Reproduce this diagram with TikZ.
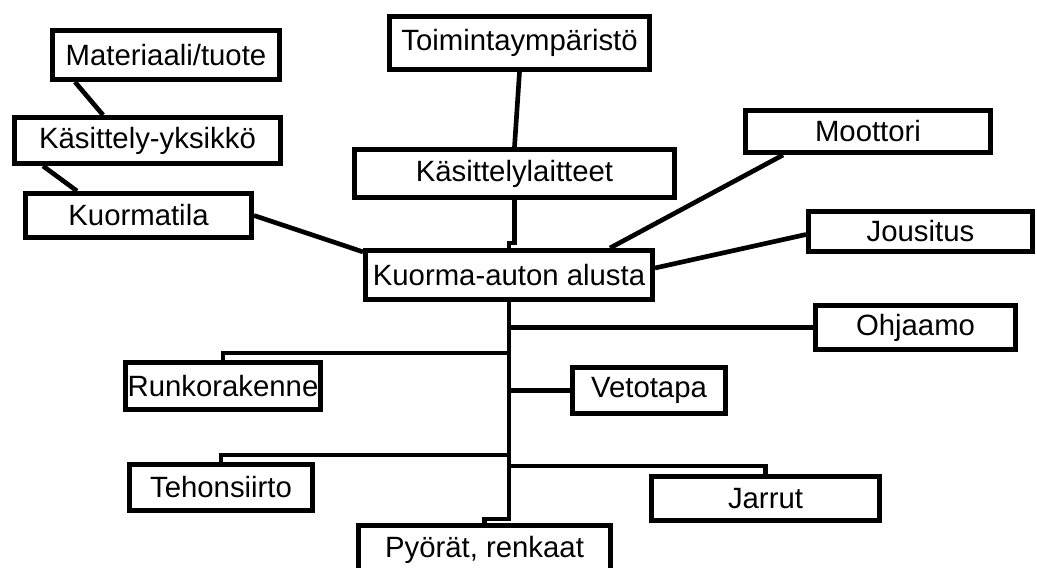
\documentclass[tikz,border=0pt]{standalone}
\usepackage{fontspec}
\setmainfont{Liberation Sans}
\usetikzlibrary{calc}

\tikzset{every picture/.style={line width=3.5pt}}
\tikzset{
	box/.style={draw, fill=white, line width=3.75pt, inner sep=0pt,
		font=\fontsize{22}{26}\selectfont},
	link/.style={line width=3.5pt}}

\begin{document}
\begin{tikzpicture}[x=0.75pt,y=0.75pt,yscale=-1,xscale=1]
	\useasboundingbox (0,0) rectangle (1037,567);

	%Shape: Rectangle [mat]
	\node [box, minimum width=170.25pt, minimum height=36.75pt] (mat) at (166,55) {Materiaali/tuote};
	%Shape: Rectangle [kys]
	\node [box, minimum width=199.5pt, minimum height=34.5pt] (kys) at (147.5,140.5) {Käsittely-yksikkö};
	%Shape: Rectangle [kuo]
	\node [box, minimum width=169.5pt, minimum height=33pt] (kuo) at (138.5,215.5) {Kuormatila};
	%Shape: Rectangle [toim]
	\node [box, minimum width=195pt, minimum height=39.75pt] (toim) at (519.5,43) {Toimintaympäristö};
	%Shape: Rectangle [kasl]
	\node [box, minimum width=240pt, minimum height=36pt] (kasl) at (514.5,173.5) {Käsittelylaitteet};
	%Shape: Rectangle [alusta]
	\node [box, minimum width=215.25pt, minimum height=36.75pt] (alusta) at (509,275) {Kuorma-auton alusta};
	%Shape: Rectangle [moot]
	\node [box, minimum width=183.75pt, minimum height=31.5pt] (moot) at (868,131.5) {Moottori};
	%Shape: Rectangle [jous]
	\node [box, minimum width=168pt, minimum height=30pt] (jous) at (920.5,231.5) {Jousitus};
	%Shape: Rectangle [ohj]
	\node [box, minimum width=150pt, minimum height=33pt] (ohj) at (915.5,327.5) {Ohjaamo};
	%Shape: Rectangle [runko]
	\node [box, minimum width=146.25pt, minimum height=35.25pt] (runko) at (223,386) {Runkorakenne};
	%Shape: Rectangle [veto]
	\node [box, minimum width=114.75pt, minimum height=34.5pt] (veto) at (649,390.5) {Vetotapa};
	%Shape: Rectangle [teho]
	\node [box, minimum width=137.25pt, minimum height=34.5pt] (teho) at (221,487.5) {Tehonsiirto};
	%Shape: Rectangle [jarr]
	\node [box, minimum width=171pt, minimum height=33pt] (jarr) at (765.5,498.5) {Jarrut};
	%Shape: Rectangle [pyo], cut by the page edge
	\node [box, minimum width=189pt, minimum height=37pt] (pyo) at (484.5,550) {Pyörät, renkaat};

	% trunk points
	\coordinate (j1) at (509,353);
	\coordinate (j2) at (509,455);
	\coordinate (j3) at (509,466);
	\coordinate (j4) at (509,519);

	%Straight Lines
	\draw [link] ($(mat.south west)+(25,0)$) -- ($(kys.north west)+(91,0)$);
	\draw [link] ($(kys.south west)+(31,0)$) -- ($(kuo.north west)+(54,0)$);
	\draw [link] (kuo.east) -- (alusta.171);
	\draw [link] (toim.south) -- (kasl.north);
	\draw [link] (kasl.south) -- ++(0,43) -| (alusta.north);
	\draw [link] ($(moot.south west)+(40,0)$) -- ($(alusta.north east)+(-45,0)$);
	\draw [link] ($(jous.west)+(0,3)$) -- ($(alusta.east)+(0,-7)$);
	%Trunk and branches
	\draw [link] (alusta.south) -- (j4) -| (pyo.north);
	\draw [link] (alusta.south |- ohj.west) -- (ohj.west);
	\draw [link] (j1) -| (runko.north);
	\draw [link] (alusta.south |- veto.west) -- (veto.west);
	\draw [link] (j2) -| (teho.north);
	\draw [link] (j3) -| (jarr.north);

\end{tikzpicture}
\end{document}
